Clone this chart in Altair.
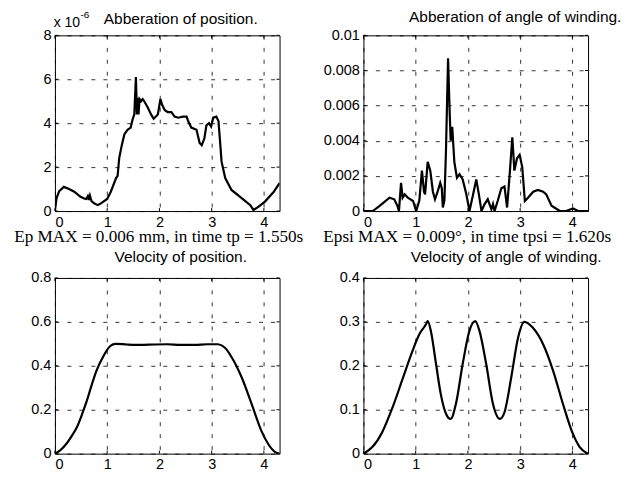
import altair as alt
import pandas as pd

# ---- data ----
t1 = [0, 0.03, 0.08, 0.17, 0.27, 0.37, 0.49, 0.56, 0.6, 0.63, 0.65, 0.67, 0.7, 0.75, 0.82, 0.88,
      1.0, 1.07, 1.17, 1.2, 1.23, 1.28, 1.33, 1.39, 1.45, 1.49, 1.52, 1.55, 1.57, 1.59, 1.6, 1.62,
      1.65, 1.68, 1.71, 1.78, 1.84, 1.89, 1.97, 2.02, 2.05, 2.1, 2.16, 2.23, 2.29, 2.36, 2.45, 2.52,
      2.55, 2.61, 2.71, 2.77, 2.81, 2.86, 2.9, 2.95, 2.99, 3.03, 3.09, 3.13, 3.16, 3.19, 3.26, 3.38,
      3.58, 3.74, 3.8, 3.9, 4.02, 4.19, 4.3]
ep = [0, 0.58, 0.9, 1.1, 1.0, 0.88, 0.65, 0.57, 0.55, 0.68, 0.5, 0.7, 0.45, 0.35, 0.27, 0.35,
      0.55, 0.88, 1.5, 1.6, 2.4, 3.0, 3.5, 3.7, 3.8, 4.2, 4.4, 6.1, 4.4, 5.15, 4.4, 5.1,
      5.0, 5.1, 5.0, 4.7, 4.4, 4.2, 4.4, 5.1, 4.85, 4.6, 4.5, 4.5, 4.3, 4.25, 4.3, 4.3,
      4.1, 3.8, 3.7, 3.1, 3.0, 3.3, 3.9, 4.0, 3.85, 4.25, 4.3, 4.1, 3.2, 2.25, 1.5, 0.96,
      0.58, 0.27, 0.05, 0.2, 0.43, 0.88, 1.27]

t2 = [0, 0.18, 0.31, 0.5, 0.59, 0.65, 0.68, 0.72, 0.75, 0.79, 0.85, 0.95, 1.01, 1.07, 1.12, 1.16,
      1.18, 1.23, 1.28, 1.33, 1.37, 1.42, 1.47, 1.5, 1.52, 1.55, 1.58, 1.62, 1.65, 1.67, 1.7, 1.72,
      1.74, 1.79, 1.84, 1.9, 1.97, 2.03, 2.1, 2.16, 2.21, 2.26, 2.32, 2.38, 2.45, 2.48, 2.51, 2.57,
      2.64, 2.7, 2.75, 2.8, 2.85, 2.89, 2.94, 2.99, 3.04, 3.09, 3.15, 3.25, 3.34, 3.44, 3.5, 3.6,
      3.76, 3.88, 4.01, 4.11, 4.3]
epsi = [0, 0, 0.0003, 0.00076, 0.00067, 0.0003, 0, 0.0016, 0.00076, 0.00095, 0.00076, 0.00057, 0, 0.0006, 0.0023, 0.0011,
        0.00095, 0.0028, 0.0023, 0.0011, 0.00067, 0.0011, 0.0016, 0.0013, 0.0002, 0.0006, 0.0034, 0.0087, 0.0057, 0.0040, 0.0048, 0.0038,
        0.0028, 0.0019, 0.0021, 0.0018, 0.00095, 0, 0.00095, 0.0018, 0.00095, 0, 0.0004, 0.00067, 0.0001, 0.0004, 0, 0.00057,
        0.0013, 0.0014, 0.0002, 0.0021, 0.0042, 0.0023, 0.003, 0.0032, 0.0025, 0.00057, 0.00076, 0.0011, 0.0012, 0.0011, 0.00095, 0.0003,
        0, 0, 0.00015, 0, 0]

t3 = [0, 0.1, 0.22, 0.32, 0.42, 0.52, 0.61, 0.7, 0.8, 0.93, 1.06, 1.16, 1.38, 1.64, 1.9, 2.15,
      2.41, 2.67, 2.92, 3.12, 3.25, 3.38, 3.57, 3.76, 3.95, 4.08, 4.21, 4.3]
vp = [0, 0.015, 0.045, 0.08, 0.12, 0.18, 0.24, 0.31, 0.38, 0.445, 0.49, 0.5, 0.497, 0.495, 0.497, 0.498,
      0.495, 0.495, 0.498, 0.498, 0.483, 0.44, 0.35, 0.23, 0.105, 0.045, 0.008, 0]

t4 = [0, 0.17, 0.36, 0.56, 0.75, 0.94, 1.07, 1.2, 1.23, 1.29, 1.39, 1.48, 1.58, 1.67, 1.77, 1.9,
      2.03, 2.14, 2.22, 2.35, 2.48, 2.61, 2.7, 2.83, 2.96, 3.08, 3.24, 3.44, 3.63, 3.82, 4.01, 4.14, 4.3]
vpsi = [0, 0.015, 0.049, 0.106, 0.17, 0.234, 0.272, 0.295, 0.302, 0.28, 0.204, 0.136, 0.091, 0.079, 0.113, 0.204,
        0.28, 0.302, 0.28, 0.204, 0.113, 0.079, 0.094, 0.174, 0.264, 0.3, 0.287, 0.249, 0.189, 0.113, 0.045, 0.015, 0]

x_ticks = [0, 1, 2, 3, 4]
x_domain = [0, 4.3]
y1_ticks = [0, 2, 4, 6, 8]
y2_ticks = [0, 0.002, 0.004, 0.006, 0.008, 0.01]
y3_ticks = [0, 0.2, 0.4, 0.6, 0.8]
y4_ticks = [0, 0.1, 0.2, 0.3, 0.4]

title1 = "Abberation of position."
title2 = "Abberation of angle of winding."
title3 = "Velocity of position."
title4 = "Velocity of angle of winding."
xlab1 = "Ep MAX = 0.006 mm, in time tp = 1.550s"
xlab2 = "Epsi MAX = 0.009°, in time tpsi = 1.620s"
exp_base = "x 10"
exp_pow = "-6"

W, H = 225, 176
TICK = 3
SANS = "Liberation Sans"
SERIF = "Liberation Serif"


def label(txt, x, y, font=SANS, size=15.5, align="center"):
    return alt.Chart(pd.DataFrame({"s": [txt]})).mark_text(
        align=align, baseline="alphabetic", font=font, fontSize=size, color="black"
    ).encode(text="s:N", x=alt.value(x), y=alt.value(y))


def panel(t, v, ticks, labels, interp="linear"):
    xs = alt.Scale(domain=x_domain, nice=False, zero=False)
    ys = alt.Scale(domain=[ticks[0], ticks[-1]], nice=False)
    xa = alt.Axis(values=x_ticks, format="d", title=None)
    ya = alt.Axis(values=ticks, format="~g", title=None)
    df = pd.DataFrame({"t": t, "v": v})
    line = alt.Chart(df).mark_line(color="black", strokeWidth=2.2, interpolate=interp, clip=True).encode(
        x=alt.X("t:Q", scale=xs, axis=xa),
        y=alt.Y("v:Q", scale=ys, axis=ya),
    )
    # inward tick marks on all four sides (MATLAB box style)
    xt = pd.DataFrame({"t": x_ticks})
    yt = pd.DataFrame({"v": ticks})
    rule = dict(color="black", strokeWidth=1)
    xb = alt.Chart(xt).mark_rule(**rule).encode(
        x=alt.X("t:Q", scale=xs, axis=xa), y=alt.value(H), y2=alt.value(H - TICK))
    xtop = alt.Chart(xt).mark_rule(**rule).encode(
        x=alt.X("t:Q", scale=xs, axis=xa), y=alt.value(0), y2=alt.value(TICK))
    yl = alt.Chart(yt).mark_rule(**rule).encode(
        y=alt.Y("v:Q", scale=ys, axis=ya), x=alt.value(0), x2=alt.value(TICK))
    yr = alt.Chart(yt).mark_rule(**rule).encode(
        y=alt.Y("v:Q", scale=ys, axis=ya), x=alt.value(W - TICK), x2=alt.value(W))
    return alt.layer(line, xb, xtop, yl, yr, *labels).properties(width=W, height=H)


p1 = panel(t1, ep, y1_ticks, [
    label(exp_base, -1.3, -8.7, size=14, align="left"),
    label(exp_pow, 25.5, -17.5, size=10, align="left"),
    label(title1, 126, -11),
    label(xlab1, 104, 207.5, font=SERIF, size=17.2),
])
p2 = panel(t2, epsi, y2_ticks, [
    label(title2, 152, -13),
    label(xlab2, 104, 207.5, font=SERIF, size=17.2),
])
p3 = panel(t3, vp, y3_ticks, [label(title3, 126, -15.7)], interp="monotone")
p4 = panel(t4, vpsi, y4_ticks, [label(title4, 143, -15.7)], interp="monotone")

chart = alt.concat(
    p1, p2, p3, p4, columns=2, spacing={"row": 67, "column": 84}, bounds="flush"
).properties(
    padding={"left": 5, "top": 1, "right": 2, "bottom": 2}
).configure_view(
    stroke="black", strokeWidth=1
).configure_axis(
    domain=False, ticks=False, labelFont=SANS, labelFontSize=14.5, labelColor="black",
    labelPadding=4, grid=True, gridColor="black", gridDash=[4, 8], gridWidth=0.8, gridOpacity=1,
)

chart.save("out.html", embed_options={"renderer": "svg", "actions": False})
